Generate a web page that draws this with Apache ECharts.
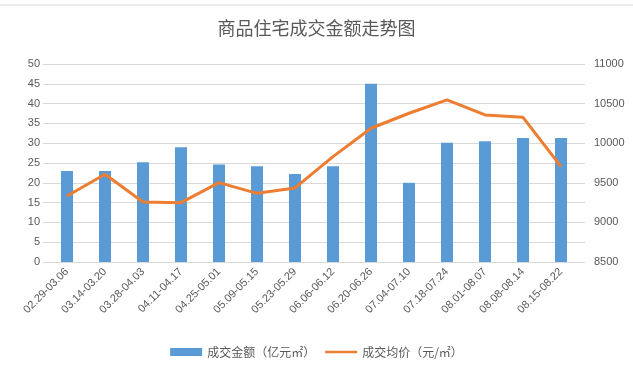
<!DOCTYPE html>
<html><head><meta charset="utf-8">
<script src="https://cdn.jsdelivr.net/npm/echarts@6/dist/echarts.min.js"></script>
<style>html,body{margin:0;padding:0;background:#fff}#c{width:633px;height:375px}</style>
</head><body><div id="c"></div>
<script>
const categories = ['02.29-03.06','03.14-03.20','03.28-04.03','04.11-04.17','04.25-05.01','05.09-05.15','05.23-05.29','06.06-06.12','06.20-06.26','07.04-07.10','07.18-07.24','08.01-08.07','08.08-08.14','08.15-08.22'];
const amount = [23, 23, 25.2, 29, 24.6, 24.2, 22.2, 24.2, 45, 20, 30.1, 30.5, 31.3, 31.3];
const avgPrice = [9333, 9608, 9258, 9249, 9502, 9367, 9435, 9830, 10189, 10378, 10546, 10357, 10327, 9704];
const seriesNames = ['成交金额（亿元㎡）', '成交均价（元/㎡）'];

const chart = echarts.init(document.getElementById('c'));
const txt = '#595959';
chart.setOption({
  animation: false,
  title: { text: '商品住宅成交金额走势图', left: 'center', top: 14,
    textStyle: { fontFamily: 'Noto Sans CJK SC', fontSize: 18, fontWeight: 'normal', color: txt } },
  graphic: [{ type: 'line', shape: { x1: 0, y1: 5, x2: 633, y2: 5 }, style: { stroke: '#d9d9d9', lineWidth: 1 } }],
  legend: { bottom: 12, left: 'center', itemGap: 10, itemWidth: 32, itemHeight: 8,
    textStyle: { fontFamily: 'Noto Sans CJK SC', fontSize: 12, color: txt },
    data: [{ name: seriesNames[0], icon: 'rect' },
           { name: seriesNames[1], icon: 'path://M0,0L40,0L40,3L0,3Z' }] },
  grid: { left: 48, right: 53, top: 64, bottom: 113 },
  xAxis: { type: 'category', data: categories,
    axisLine: { lineStyle: { color: '#d9d9d9' } }, axisTick: { show: false },
    axisLabel: { rotate: 45, interval: 0, color: txt, fontSize: 11, fontFamily: 'Liberation Sans', margin: 8 } },
  yAxis: [
    { type: 'value', min: 0, max: 50, interval: 5,
      axisLine: { show: false }, axisTick: { show: true, length: 5, lineStyle: { color: '#d9d9d9' } },
      axisLabel: { color: txt, fontSize: 11, fontFamily: 'Liberation Sans', margin: 8 },
      splitLine: { lineStyle: { color: '#d9d9d9' } } },
    { type: 'value', min: 8500, max: 11000, interval: 250,
      axisLine: { show: false }, axisTick: { show: true, length: 5, lineStyle: { color: '#d9d9d9' } },
      axisLabel: { color: txt, fontSize: 11, fontFamily: 'Liberation Sans', margin: 14,
        formatter: v => (v % 500 === 0 ? String(v) : '') },
      splitLine: { show: false } }
  ],
  series: [
    { name: seriesNames[0], type: 'bar', data: amount, barWidth: 12, yAxisIndex: 0,
      itemStyle: { color: '#5B9BD5' } },
    { name: seriesNames[1], type: 'line', data: avgPrice, yAxisIndex: 1, symbol: 'none',
      lineStyle: { color: '#ED7D31', width: 3 }, itemStyle: { color: '#ED7D31' } }
  ]
});
</script></body></html>
